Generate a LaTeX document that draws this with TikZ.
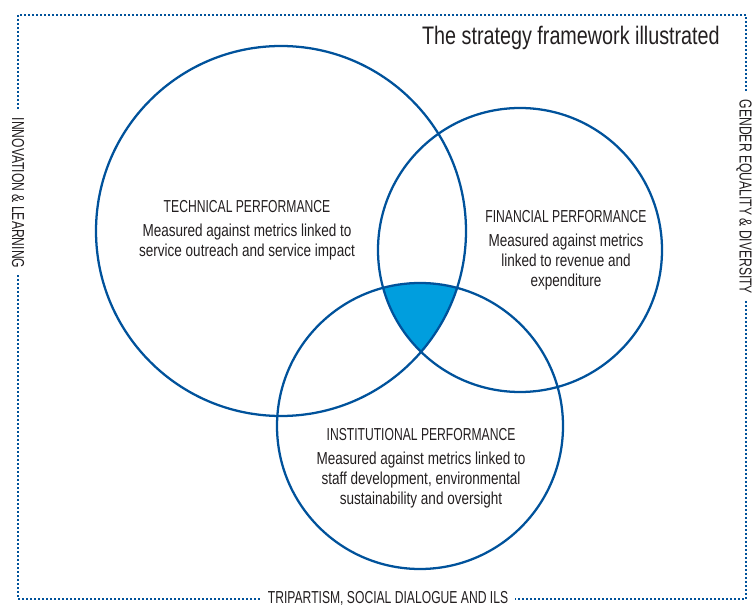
\documentclass[tikz,border=0pt]{standalone}
\usepackage{fontspec}
\setmainfont[FakeStretch=0.78]{Liberation Sans}
\newfontfamily\capsfont[FakeStretch=0.70]{Liberation Sans}
\definecolor{ringblue}{RGB}{0,82,155}
\definecolor{coreblue}{RGB}{0,158,222}
\definecolor{inkgrey}{RGB}{35,31,32}
\def\lbl{\fontsize{13}{15}\selectfont}
\def\hd{\capsfont\fontsize{13}{15}\selectfont}
\def\ttl{\fontsize{19}{21}\selectfont}

\begin{document}
\begin{tikzpicture}[x=0.75pt,y=0.75pt,yscale=-1,xscale=1,
	ring/.style={draw=ringblue,line width=1.7pt},
	frame/.style={draw=ringblue,line width=1.5pt,dash pattern=on 1.5pt off 1.5pt},
	txt/.style={inner sep=0.75pt,align=center,font=\lbl,text=inkgrey},
	side/.style={fill=white,inner xsep=5pt,inner ysep=1pt,font=\hd,text=inkgrey}]
		\useasboundingbox (0,0) rectangle (752,605);
		\draw [frame] (18,15) rectangle (746,599);
		\begin{scope}
		\clip (281,231) circle (185);
		\clip (520,250) circle (142);
		\fill [coreblue] (420,426) circle (143);
		\end{scope}
		\draw [ring] (281,231) circle (185);
		\draw [ring] (520,250) circle (142);
		\draw [ring] (420,426) circle (143);
		\draw (721,38) node (title) [anchor=east][inner sep=0.75pt][font=\ttl,text=inkgrey] {The strategy framework illustrated};
		\draw (247,230) node (tech) [txt] {{\hd TECHNICAL PERFORMANCE}\\[3pt]Measured against metrics linked to\\service outreach and service impact};
		\draw (566,250) node (fin) [txt] {{\hd FINANCIAL PERFORMANCE}\\[3pt]Measured against metrics\\linked to revenue and\\expenditure};
		\draw (421,468) node (inst) [txt] {{\hd INSTITUTIONAL PERFORMANCE}\\[3pt]Measured against metrics linked to\\staff development, environmental\\sustainability and oversight};
		\draw (18,193) node (innov) [side,rotate=-90] {INNOVATION \& LEARNING};
		\draw (744,197) node (gender) [side,rotate=-90] {GENDER EQUALITY \& DIVERSITY};
		\draw (388,603) node (tripart) [side,anchor=base] {TRIPARTISM, SOCIAL DIALOGUE AND ILS};
		\end{tikzpicture}
\end{document}
